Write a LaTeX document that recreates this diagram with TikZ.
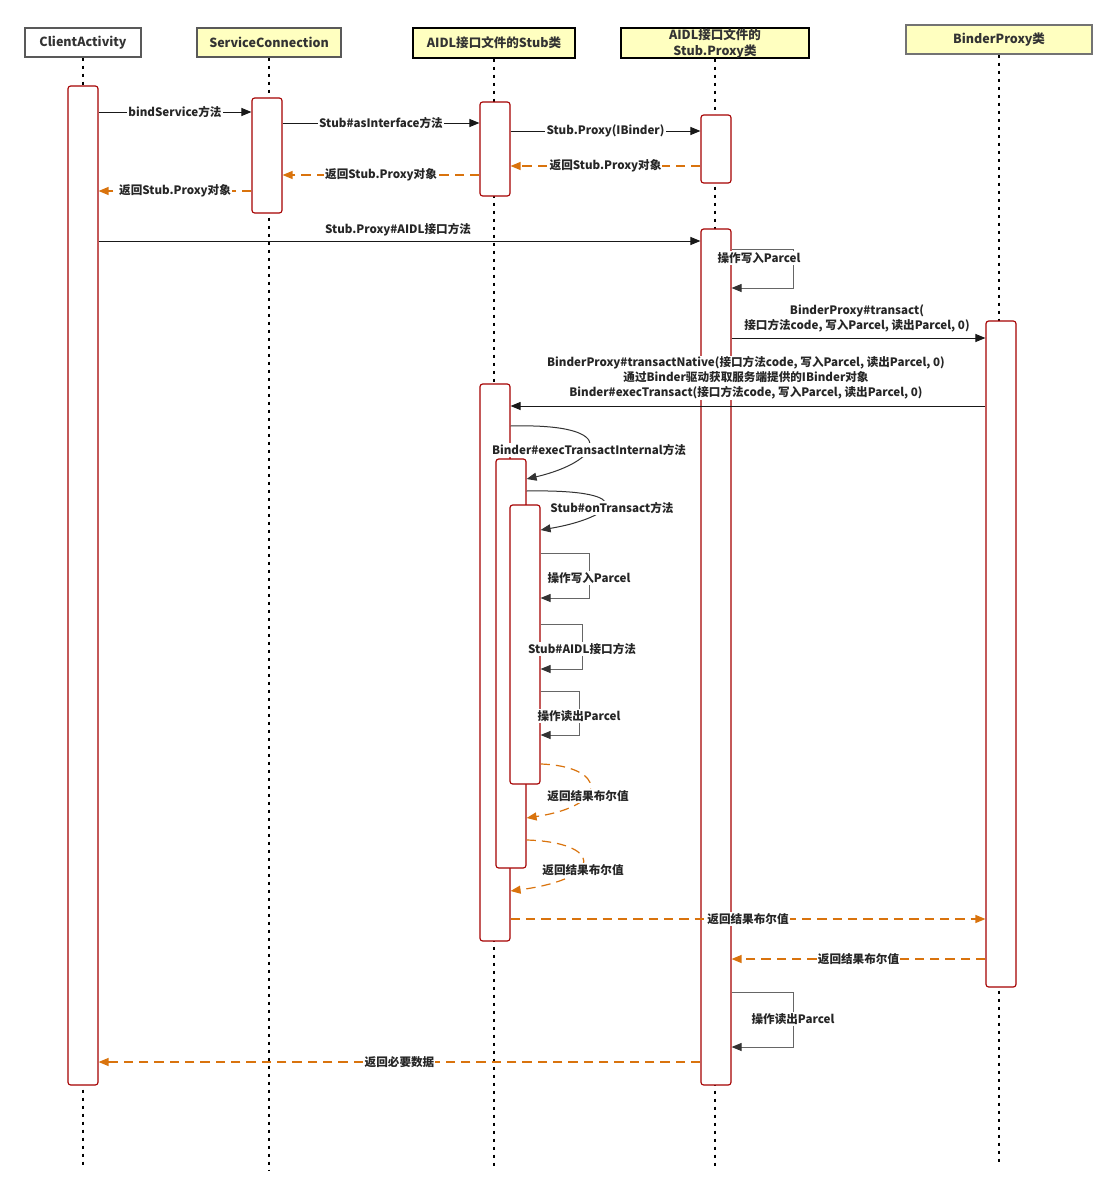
\documentclass[tikz,border=0pt]{standalone}
\usepackage{fontspec}
\setmainfont{Noto Sans CJK SC}
\usetikzlibrary{arrows.meta,fit}

\definecolor{headyellow}{HTML}{FFFFC0}
\definecolor{actred}{HTML}{A50000}
\definecolor{retorange}{HTML}{D9730D}

\tikzset{
  head/.style={draw=black!65, fill=headyellow, line width=0.9pt, inner sep=0,
    font=\bfseries\fontsize{9.4}{12}\selectfont, text=black!80, align=center},
  act/.style={draw=actred, fill=white, rounded corners=2pt, inner sep=0, line width=0.85pt},
  life/.style={line width=1.5pt, dash pattern=on 2.25pt off 3.75pt},
  msg/.style={-{Triangle[length=7.5pt,width=6pt]}, line width=0.75pt, draw=black!90},
  ret/.style={msg, draw=retorange, line width=0.9pt, dash pattern=on 7pt off 4.5pt},
  selfloop/.style={-{Triangle[length=7.5pt,width=6pt,color=black!80,fill=black!80]},
    line width=0.75pt, draw=black!60},
  lbl/.style={fill=white, inner sep=0.8pt, text=black!85,
    font=\bfseries\fontsize{8.7}{11.2}\selectfont, align=center}
}

\begin{document}
\begin{tikzpicture}[x=0.75pt, y=-0.75pt]
  \useasboundingbox (0,0) rectangle (1117,1196);

  % heads
  \node[head, fill=white, minimum width={116*0.75pt}, minimum height={29*0.75pt}] (ca) at (83,42.5) {ClientActivity};
  \node[head, minimum width={144*0.75pt}, minimum height={29*0.75pt}] (sc) at (269,42.5) {ServiceConnection};
  \node[head, draw=black, minimum width={162*0.75pt}, minimum height={30*0.75pt}] (st) at (494,43) {AIDL接口文件的Stub类};
  \node[head, draw=black, minimum width={188*0.75pt}, minimum height={30*0.75pt}] (px) at (715,43) {AIDL接口文件的\\Stub.Proxy类};
  \node[head, draw=black!55, minimum width={186*0.75pt}, minimum height={29*0.75pt}] (bp) at (999,39.5) {BinderProxy类};

  % lifelines
  \coordinate (caEnd) at (83,1166);
  \coordinate (scEnd) at (269,1170);
  \coordinate (stEnd) at (494,1166);
  \coordinate (pxEnd) at (715,1166);
  \coordinate (bpEnd) at (999,1163);
  \foreach \h in {ca,sc,st,px,bp}
    \draw[life] (\h.south) -- (\h End);

  % activations
  \node[act, fit={(68,86) (98,1085)}] (caAct) {};
  \node[act, fit={(252,98) (282,213)}] (scAct) {};
  \node[act, fit={(480,102) (510,196)}] (stAct) {};
  \node[act, fit={(701,115) (731,183)}] (pxAct) {};
  \node[act, fit={(701,229) (731,1085)}] (pxAct2) {};
  \node[act, fit={(986,321) (1016,987)}] (bpAct) {};
  \node[act, fit={(480,384) (510,941)}] (stAct2) {};
  \node[act, fit={(496,459) (526,868)}] (stAct3) {};
  \node[act, fit={(510,505) (540,784)}] (stAct4) {};

  % message rows
  \foreach \n/\y in {m1/112, m2/123, m3/131, m4/166, m5/175, m6/191, m7/241,
      s8a/249, s8b/288, m9/338, m10/406, c11a/426, c11b/479, c12a/491, c12b/530,
      s13a/553, s13b/598, s14a/624, s14b/669, s15a/691, s15b/735,
      c16a/764, c16b/818, c17a/840, c17b/891, m18/919, m19/959,
      s20a/992, s20b/1047, m21/1062}
    \coordinate (\n) at (0,\y);

  % calls
  \draw[msg] (caAct.east |- m1) -- (scAct.west |- m1) node[lbl, pos=0.5] {bindService方法};
  \draw[msg] (scAct.east |- m2) -- (stAct.west |- m2) node[lbl, pos=0.5] {Stub\#asInterface方法};
  \draw[msg] (stAct.east |- m3) -- (pxAct.west |- m3) node[lbl, pos=0.5] {Stub.Proxy(IBinder)};
  \draw[ret] (pxAct.west |- m4) -- (stAct.east |- m4) node[lbl, pos=0.5] {返回Stub.Proxy对象};
  \draw[ret] (stAct.west |- m5) -- (scAct.east |- m5) node[lbl, pos=0.5] {返回Stub.Proxy对象};
  \draw[ret] (scAct.west |- m6) -- (caAct.east |- m6) node[lbl, pos=0.5] {返回Stub.Proxy对象};
  \draw[msg] (caAct.east |- m7) -- (pxAct2.west |- m7);
  \node[lbl] (l7) at (398,230) {Stub.Proxy\#AIDL接口方法};

  \draw[selfloop] (pxAct2.east |- s8a) -- ++(62,0) |- (pxAct2.east |- s8b);
  \node[lbl] (l8) at (759,258) {操作写入Parcel};

  \draw[msg] (pxAct2.east |- m9) -- (bpAct.west |- m9);
  \node[lbl] (l9) at (857,318.5) {BinderProxy\#transact(\\接口方法code, 写入Parcel, 读出Parcel, 0)};

  \draw[msg] (bpAct.west |- m10) -- (stAct2.east |- m10);
  \node[lbl] (l10) at (746,378) {BinderProxy\#transactNative(接口方法code, 写入Parcel, 读出Parcel, 0)\\通过Binder驱动获取服务端提供的IBinder对象\\Binder\#execTransact(接口方法code, 写入Parcel, 读出Parcel, 0)};

  \draw[msg, draw=black!80] (stAct2.east |- c11a) .. controls (625,423) and (600,462) .. (stAct3.east |- c11b);
  \node[lbl] (l11) at (589,450) {Binder\#execTransactInternal方法};
  \draw[msg, draw=black!80] (stAct3.east |- c12a) .. controls (645,489) and (612,518) .. (stAct4.east |- c12b);
  \node[lbl] (l12) at (612,508) {Stub\#onTransact方法};

  \draw[selfloop] (stAct4.east |- s13a) -- ++(49,0) |- (stAct4.east |- s13b);
  \node[lbl] (l13) at (589,578) {操作写入Parcel};
  \draw[selfloop] (stAct4.east |- s14a) -- ++(42,0) |- (stAct4.east |- s14b);
  \node[lbl] (l14) at (582,649) {Stub\#AIDL接口方法};
  \draw[selfloop] (stAct4.east |- s15a) -- ++(39,0) |- (stAct4.east |- s15b);
  \node[lbl] (l15) at (579,716) {操作读出Parcel};

  % returns
  \draw[ret] (stAct4.east |- c16a) .. controls (605,766) and (612,805) .. (stAct3.east |- c16b);
  \node[lbl] (l16) at (588,796) {返回结果布尔值};
  \draw[ret] (stAct3.east |- c17a) .. controls (600,842) and (608,878) .. (stAct2.east |- c17b);
  \node[lbl] (l17) at (583,870) {返回结果布尔值};
  \draw[ret] (stAct2.east |- m18) -- (bpAct.west |- m18) node[lbl, pos=0.5] {返回结果布尔值};
  \draw[ret] (bpAct.west |- m19) -- (pxAct2.east |- m19) node[lbl, pos=0.5] {返回结果布尔值};

  \draw[selfloop] (pxAct2.east |- s20a) -- ++(62,0) |- (pxAct2.east |- s20b);
  \node[lbl] (l20) at (793,1019) {操作读出Parcel};

  \draw[ret] (pxAct2.west |- m21) -- (caAct.east |- m21) node[lbl, pos=0.5] {返回必要数据};
\end{tikzpicture}
\end{document}
